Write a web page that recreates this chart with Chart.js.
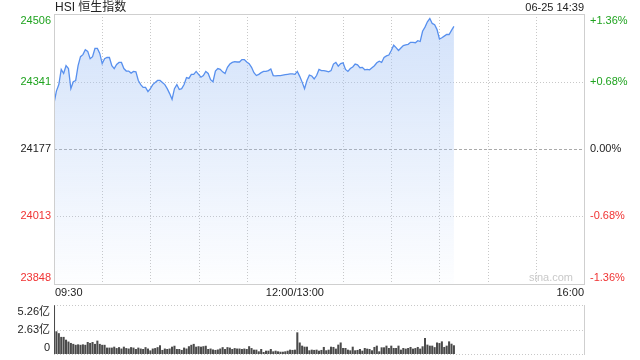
<!DOCTYPE html>
<html>
<head>
<meta charset="utf-8">
<script src="https://cdn.jsdelivr.net/npm/chart.js@4/dist/chart.umd.min.js"></script>
<style>
  html, body { margin: 0; padding: 0; background: #fff; }
  #wrap { position: relative; width: 640px; height: 360px; }
  #priceBox { position: absolute; left: 0; top: 0; width: 640px; height: 300px; }
  #volBox { position: absolute; left: 0; top: 300px; width: 640px; height: 60px; }
</style>
</head>
<body>
<div id="wrap">
  <div id="priceBox"><canvas id="priceChart" width="640" height="300"></canvas></div>
  <div id="volBox"><canvas id="volChart" width="640" height="60"></canvas></div>
</div>
<script>
// one point per 1.5-minute slot from 09:30 to 14:39
const prices = [
  24288, 24318, 24334, 24371, 24361, 24380, 24373, 24324, 24341, 24344,
  24380, 24402, 24407, 24419, 24415, 24397, 24402, 24422, 24422, 24410,
  24385, 24397, 24400, 24400, 24380, 24373, 24383, 24388, 24388, 24373,
  24367, 24367, 24362, 24366, 24365, 24344, 24334, 24327, 24327, 24317,
  24324, 24334, 24339, 24344, 24344, 24339, 24334, 24324, 24312, 24298,
  24324, 24334, 24322, 24324, 24334, 24351, 24349, 24359, 24359, 24366,
  24359, 24352, 24356, 24366, 24361, 24346, 24341, 24367, 24373, 24371,
  24365, 24361, 24376, 24384, 24388, 24390, 24389, 24389, 24395, 24395,
  24389, 24385, 24376, 24363, 24356, 24359, 24363, 24366, 24366, 24368,
  24372, 24356, 24355, 24356, 24356, 24357, 24358, 24359, 24360, 24360,
  24359, 24366, 24354, 24340, 24324, 24344, 24357, 24355, 24348, 24356,
  24371, 24368, 24368, 24367, 24365, 24368, 24384, 24388, 24379, 24385,
  24387, 24371, 24366, 24373, 24377, 24384, 24382, 24375, 24376, 24370,
  24371, 24370, 24375, 24380, 24387, 24391, 24388, 24400, 24404, 24406,
  24417, 24430, 24424, 24417, 24423, 24429, 24431, 24432, 24437, 24437,
  24436, 24441, 24439, 24464, 24474, 24487, 24495, 24483, 24480, 24468,
  24445, 24448, 24452, 24456, 24456, 24466, 24476
];
// volume in 亿
const volumes = [
  5.2, 2.4, 2.2, 1.8, 1.8, 1.5, 1.3, 1.15, 1.05, 0.95,
  1.0, 0.95, 1.0, 0.95, 1.25, 1.15, 1.25, 1.05, 1.4, 1.05,
  0.95, 0.95, 0.65, 0.65, 0.65, 0.75, 0.6, 0.7, 0.55, 0.75,
  0.6, 0.55, 0.7, 0.65, 0.5, 0.65, 0.55, 0.5, 0.7, 0.55,
  0.35, 0.55, 0.6, 0.7, 0.9, 0.4, 0.55, 0.5, 0.55, 0.75,
  0.85, 0.5, 0.5, 0.4, 0.65, 0.55, 0.8, 0.95, 1.05, 0.75,
  0.8, 0.75, 0.8, 0.85, 0.5, 0.55, 0.45, 0.4, 0.45, 0.55,
  0.7, 0.5, 0.7, 0.65, 0.5, 0.6, 0.55, 0.55, 0.5, 0.55,
  0.5, 0.8, 0.6, 0.43, 0.43, 0.25, 0.5, 0.18, 0.32, 0.32,
  0.5, 0.25, 0.32, 0.25, 0.21, 0.21, 0.25, 0.32, 0.43, 0.4,
  0.43, 2.29, 1.2, 0.86, 0.75, 0.75, 0.36, 0.43, 0.4, 0.43,
  0.32, 0.4, 0.72, 0.36, 0.43, 0.75, 0.72, 0.54, 0.97, 1.2,
  0.61, 0.61, 0.43, 0.36, 0.75, 0.36, 0.4, 0.5, 0.32, 0.61,
  0.54, 0.5, 0.36, 0.72, 0.86, 0.25, 0.68, 0.68, 0.86, 0.61,
  0.86, 0.61, 0.61, 0.86, 0.43, 0.61, 0.54, 0.61, 0.72, 0.54,
  0.6, 0.72, 0.54, 0.79, 1.68, 0.97, 0.86, 0.86, 0.7, 1.2,
  1.14, 1.32, 0.72, 0.86, 1.32, 1.07, 0.9
];
const priceTicks = [24506, 24341, 24177, 24013, 23848];
const pctTicks = ["+1.36%", "+0.68%", "0.00%", "-0.68%", "-1.36%"];
const tickColors = ["#1fa31f", "#1fa31f", "#222", "#f03333", "#f03333"];
const prevClose = 24177;
const timeLabels = ["09:30", "12:00/13:00", "16:00"];
const timeSlots = [0, 100, 220];
const slotCount = 220;
const volTicks = [5.26, 2.63, 0];
const volLabels = ["5.26亿", "2.63亿", "0"];
const title = "HSI 恒生指数";
const stamp = "06-25 14:39";

const FONT = '"Liberation Sans", Arial, "Noto Sans CJK SC", sans-serif';

function hline(ctx, x1, x2, y, color, dash) {
  ctx.save();
  ctx.strokeStyle = color;
  ctx.lineWidth = 1;
  ctx.setLineDash(dash || []);
  ctx.beginPath();
  ctx.moveTo(x1, Math.round(y) + 0.5);
  ctx.lineTo(x2, Math.round(y) + 0.5);
  ctx.stroke();
  ctx.restore();
}
function vline(ctx, x, y1, y2, color, dash) {
  ctx.save();
  ctx.strokeStyle = color;
  ctx.lineWidth = 1;
  ctx.setLineDash(dash || []);
  ctx.beginPath();
  ctx.moveTo(Math.round(x) + 0.5, y1);
  ctx.lineTo(Math.round(x) + 0.5, y2);
  ctx.stroke();
  ctx.restore();
}

const priceDeco = {
  id: "priceDeco",
  beforeDatasetsDraw(chart) {
    const { ctx, chartArea: a, scales } = chart;
    for (let s = 20; s < slotCount; s += 20) {
      vline(ctx, scales.x.getPixelForValue(s), a.top, a.bottom, "#c8c8c8", [1, 2]);
    }
    priceTicks.forEach(v => {
      if (v === prevClose) return;
      hline(ctx, a.left, a.right, scales.y.getPixelForValue(v), "#c8c8c8", [1, 2]);
    });
    hline(ctx, a.left, a.right, scales.y.getPixelForValue(prevClose), "#aaa", [3, 2]);
  },
  afterDraw(chart) {
    const { ctx, chartArea: a, scales } = chart;
    ctx.save();
    ctx.strokeStyle = "#cfcfcf";
    ctx.lineWidth = 1;
    ctx.strokeRect(Math.round(a.left) + 0.5, Math.round(a.top) + 0.5,
      Math.round(a.right - a.left), Math.round(a.bottom - a.top));

    ctx.font = "11px " + FONT;
    priceTicks.forEach((v, i) => {
      const y = scales.y.getPixelForValue(v);
      ctx.textBaseline = i === 0 ? "top" : (i === priceTicks.length - 1 ? "bottom" : "middle");
      const yy = i === 0 ? y + 1 : (i === priceTicks.length - 1 ? y - 1 : y);
      ctx.fillStyle = tickColors[i];
      ctx.textAlign = "right";
      ctx.fillText(String(v), a.left - 3, yy);
      ctx.textAlign = "left";
      ctx.fillText(pctTicks[i], a.right + 6, yy);
    });

    ctx.fillStyle = "#222";
    ctx.textBaseline = "middle";
    timeSlots.forEach((s, i) => {
      const x = scales.x.getPixelForValue(s);
      ctx.textAlign = i === 0 ? "left" : (i === timeSlots.length - 1 ? "right" : "center");
      ctx.fillText(timeLabels[i], i === 0 ? x + 1 : x, a.bottom + 9);
    });

    ctx.textAlign = "right";
    ctx.fillText(stamp, a.right, 7.5);
    ctx.font = "12px " + FONT;
    ctx.textAlign = "left";
    ctx.fillText(title, a.left + 1, 7.5);

    ctx.font = "11px " + FONT;
    ctx.fillStyle = "#c9c9c9";
    ctx.textAlign = "right";
    ctx.fillText("sina.com", a.right - 11, a.bottom - 6);
    ctx.restore();
  }
};

new Chart(document.getElementById("priceChart"), {
  type: "line",
  data: {
    datasets: [{
      data: prices.map((p, i) => ({ x: i, y: p })),
      borderColor: "#5890ee",
      borderWidth: 1.3,
      pointRadius: 0,
      tension: 0,
      fill: "start",
      backgroundColor: function (c) {
        const a = c.chart.chartArea;
        if (!a) return "rgba(170,200,245,0.3)";
        const g = c.chart.ctx.createLinearGradient(0, a.top, 0, a.bottom);
        g.addColorStop(0, "rgba(165,196,245,0.5)");
        g.addColorStop(1, "rgba(165,196,245,0.02)");
        return g;
      }
    }]
  },
  options: {
    responsive: false,
    animation: false,
    layout: { padding: { top: 14, left: 0, right: 0, bottom: 0 } },
    plugins: { legend: { display: false }, tooltip: { enabled: false } },
    scales: {
      x: {
        type: "linear", min: 0, max: slotCount,
        grid: { display: false }, border: { display: false }, ticks: { display: false },
        afterFit: s => { s.height = 16; }
      },
      y: {
        min: 23848, max: 24506, position: "left",
        grid: { display: false }, border: { display: false }, ticks: { display: false },
        afterFit: s => { s.width = 54; }
      },
      yr: {
        min: 23848, max: 24506, position: "right",
        grid: { display: false }, border: { display: false }, ticks: { display: false },
        afterFit: s => { s.width = 56; }
      }
    }
  },
  plugins: [priceDeco]
});

const volDeco = {
  id: "volDeco",
  beforeDatasetsDraw(chart) {
    const { ctx, chartArea: a, scales } = chart;
    volTicks.forEach(v => {
      hline(ctx, a.left, a.right, scales.y.getPixelForValue(v), "#c8c8c8", [1, 2]);
    });
    vline(ctx, a.left, a.top, a.bottom + 1, "#cfcfcf");
    vline(ctx, a.right, a.top, a.bottom + 1, "#cfcfcf");
  },
  afterDraw(chart) {
    const { ctx, chartArea: a, scales } = chart;
    ctx.save();
    ctx.font = "11px " + FONT;
    ctx.fillStyle = "#222";
    ctx.textAlign = "right";
    volTicks.forEach((v, i) => {
      const y = scales.y.getPixelForValue(v);
      ctx.textBaseline = i === 0 ? "top" : (i === volTicks.length - 1 ? "bottom" : "middle");
      const yy = i === 0 ? y + 1 : (i === volTicks.length - 1 ? y - 1 : y);
      ctx.fillText(volLabels[i], a.left - 4, yy);
    });
    ctx.restore();
  }
};

new Chart(document.getElementById("volChart"), {
  type: "bar",
  data: {
    datasets: [{
      data: volumes.map((v, i) => ({ x: i, y: v })),
      backgroundColor: "#4a4a4a",
      barThickness: 1.4
    }]
  },
  options: {
    responsive: false,
    animation: false,
    layout: { padding: { top: 5, left: 0, right: 56, bottom: 6 } },
    plugins: { legend: { display: false }, tooltip: { enabled: false } },
    scales: {
      x: {
        type: "linear", min: 0, max: slotCount, offset: false, display: false,
        grid: { display: false, offset: false }
      },
      y: {
        min: 0, max: 5.26,
        grid: { display: false }, border: { display: false }, ticks: { display: false },
        afterFit: s => { s.width = 54; }
      }
    }
  },
  plugins: [volDeco]
});
</script>
</body>
</html>
